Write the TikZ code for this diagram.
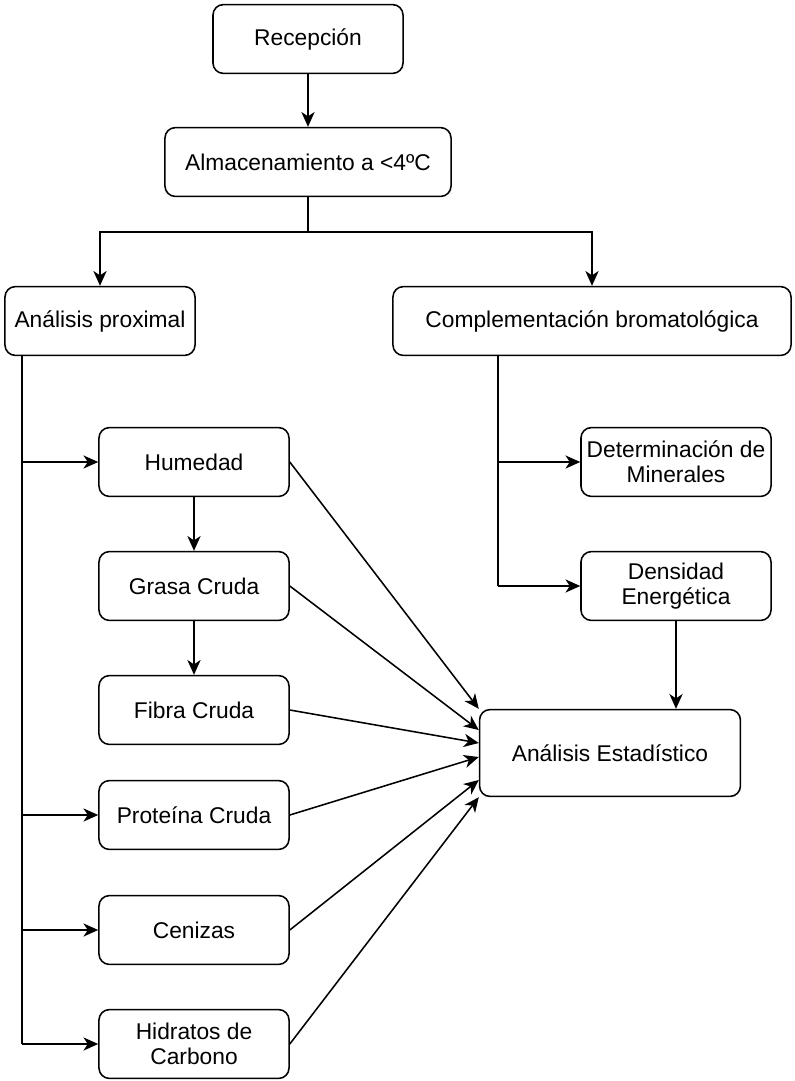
\documentclass[tikz,border=0pt]{standalone}
\usepackage{fontspec}
\setmainfont{Liberation Sans}
\usetikzlibrary{arrows.meta,calc}

\tikzset{
  box/.style={draw, line width=1.1pt, rounded corners=0.26cm, minimum width=4.75cm,
    minimum height=1.72cm, align=center, inner sep=1pt,
    font=\fontsize{16.2}{18}\selectfont},
  flow/.style={line width=1.1pt, -{Stealth[length=0.37cm,width=0.33cm,inset=0.11cm]}},
  link/.style={line width=1.1pt}
}

\begin{document}
\begin{tikzpicture}[x=0.025cm,y=-0.025cm]
\useasboundingbox (0,0) rectangle (795,1081);
% top
\node [box] (rec) at (308,39) {Recepción};
\node [box, minimum width=7.15cm] (alm) at (308,162) {Almacenamiento a <4ºC};
\node [box] (prox) at (100,321) {Análisis proximal};
\node [box, minimum width=9.95cm] (comp) at (592,321) {Complementación bromatológica};
% proximal
\node [box] (hum) at (194,462) {Humedad};
\node [box] (gra) at (194,586) {Grasa Cruda};
\node [box] (fib) at (194,710) {Fibra Cruda};
\node [box] (pro) at (194,815) {Proteína Cruda};
\node [box] (cen) at (194,930) {Cenizas};
\node [box] (hid) at (194,1044) {Hidratos de\\Carbono};
% complementacion
\node [box] (det) at (676,462) {Determinación de\\Minerales};
\node [box] (den) at (676,586) {Densidad\\Energética};
\node [box, minimum width=6.52cm, minimum height=2.17cm] (est) at (610,753) {Análisis Estadístico};
% arrows
\coordinate (split) at (308,232);
\coordinate (pbot) at (22,1044);
\coordinate (cbot) at (498,586);
\draw [flow] (rec) -- (alm);
\draw [link] (alm) -- (split);
\draw [flow] (split) -| (prox);
\draw [flow] (split) -| (comp);
\draw [link] (prox.south -| pbot) -- (pbot);
\foreach \n in {hum,pro,cen,hid}
  \draw [flow] (\n.west -| pbot) -- (\n.west);
\draw [flow] (hum) -- (gra);
\draw [flow] (gra) -- (fib);
\draw [link] (comp.south -| cbot) -- (cbot);
\draw [flow] (det.west -| cbot) -- (det.west);
\draw [flow] (cbot) -- (den.west);
\draw [flow] (den.south) -- (den.south |- est.north);
% to estadistico
\draw [flow] (hum.east) -- (est.north west);
\draw [flow] (gra.east) -- ($(est.west)+(0,-23)$);
\draw [flow] (fib.east) -- ($(est.west)+(0,-10)$);
\draw [flow] (pro.east) -- ($(est.west)+(0,4)$);
\draw [flow] (cen.east) -- ($(est.west)+(0,27)$);
\draw [flow] (hid.east) -- (est.south west);
\end{tikzpicture}
\end{document}
